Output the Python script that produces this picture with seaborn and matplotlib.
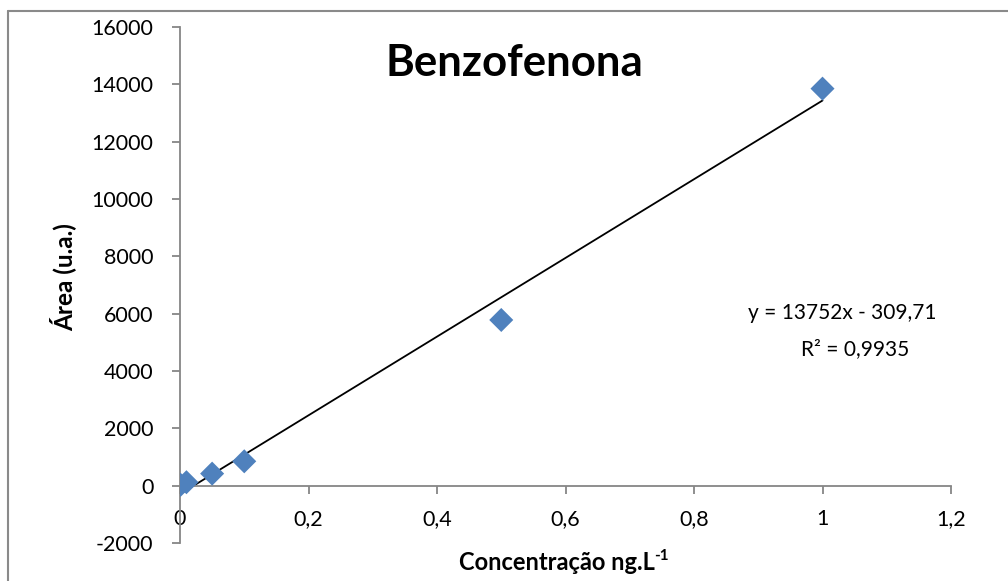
import numpy as np
import pandas as pd
import seaborn as sns
import matplotlib.pyplot as plt
from matplotlib.lines import Line2D
from matplotlib.ticker import FuncFormatter

# calibration data
concentracao = [0.001, 0.01, 0.05, 0.1, 0.5, 1.0]
area = [30, 120, 420, 850, 5780, 13850]
equacao = "y = 13752x - 309,71"
r2_texto = "R² = 0,9935"

x_ticks = [0, 0.2, 0.4, 0.6, 0.8, 1.0, 1.2]
y_ticks = list(range(-2000, 16001, 2000))

df = pd.DataFrame({"conc": concentracao, "area": area})

sns.set_style("white")
plt.rcParams["font.family"] = ["Lato", "DejaVu Sans"]
plt.rcParams["axes.unicode_minus"] = False
plt.rcParams["text.color"] = "black"

fig = plt.figure(figsize=(10.08, 5.81), dpi=100)
ax = fig.add_axes([180 / 1008, 38 / 581, 771 / 1008, 516 / 581])

blue = "#4F81BD"
axis_gray = "#868686"

sns.regplot(data=df, x="conc", y="area", scatter=False, ci=None, ax=ax,
            line_kws={"color": "black", "lw": 1.3})
sns.scatterplot(data=df, x="conc", y="area", marker="D", s=150, color=blue,
                edgecolor="none", ax=ax, zorder=3)

ax.set_xlim(0, 1.2)
ax.set_ylim(-2000, 16000)
ax.set_xticks(x_ticks)
ax.set_yticks(y_ticks)
ax.xaxis.set_major_formatter(FuncFormatter(lambda v, p: f"{v:g}".replace(".", ",")))

# Excel style axes: x axis crossing at zero
ax.spines["top"].set_visible(False)
ax.spines["right"].set_visible(False)
ax.spines["bottom"].set_position(("data", 0))
for s in ("left", "bottom"):
    ax.spines[s].set_color(axis_gray)
    ax.spines[s].set_linewidth(1.3)
ax.tick_params(axis="both", which="major", direction="out", length=6, width=1.3,
               color=axis_gray, labelsize=15.5, labelcolor="black")
ax.tick_params(axis="x", bottom=True, pad=11)
ax.tick_params(axis="y", left=True, pad=13)

ax.set_xlabel("")
ax.set_ylabel("")
xl = fig.text(557 / 1008, 1 - 562 / 581, "Concentração ng.L", ha="center", va="center",
              fontsize=17, fontweight="bold")
ax.annotate("-1", xy=(1, 1), xycoords=xl, xytext=(-0.5, 1), textcoords="offset points",
            ha="left", va="top", fontsize=11, fontweight="bold")
fig.text(63 / 1008, 1 - 277 / 581, "Área (u.a.)", ha="center", va="center",
         rotation=90, fontsize=17.5, fontweight="bold")
fig.text(514 / 1008, 1 - 63 / 581, "Benzofenona", ha="center", va="center",
         fontsize=31.5, fontweight="bold")

fig.text(842 / 1008, 1 - 313 / 581, equacao, ha="center", va="center", fontsize=15)
fig.text(855 / 1008, 1 - 349 / 581, r2_texto, ha="center", va="center", fontsize=15)

# outer chart border (only left and top edges visible in the crop)
fig.add_artist(Line2D([7.5 / 1008, 7.5 / 1008], [0, 1 - 10.5 / 581],
                      transform=fig.transFigure, color="#8a8a8a", lw=1.5))
fig.add_artist(Line2D([7.5 / 1008, 1], [1 - 10.5 / 581, 1 - 10.5 / 581],
                      transform=fig.transFigure, color="#8a8a8a", lw=1.5))

fig.savefig("out.png", dpi=100)
